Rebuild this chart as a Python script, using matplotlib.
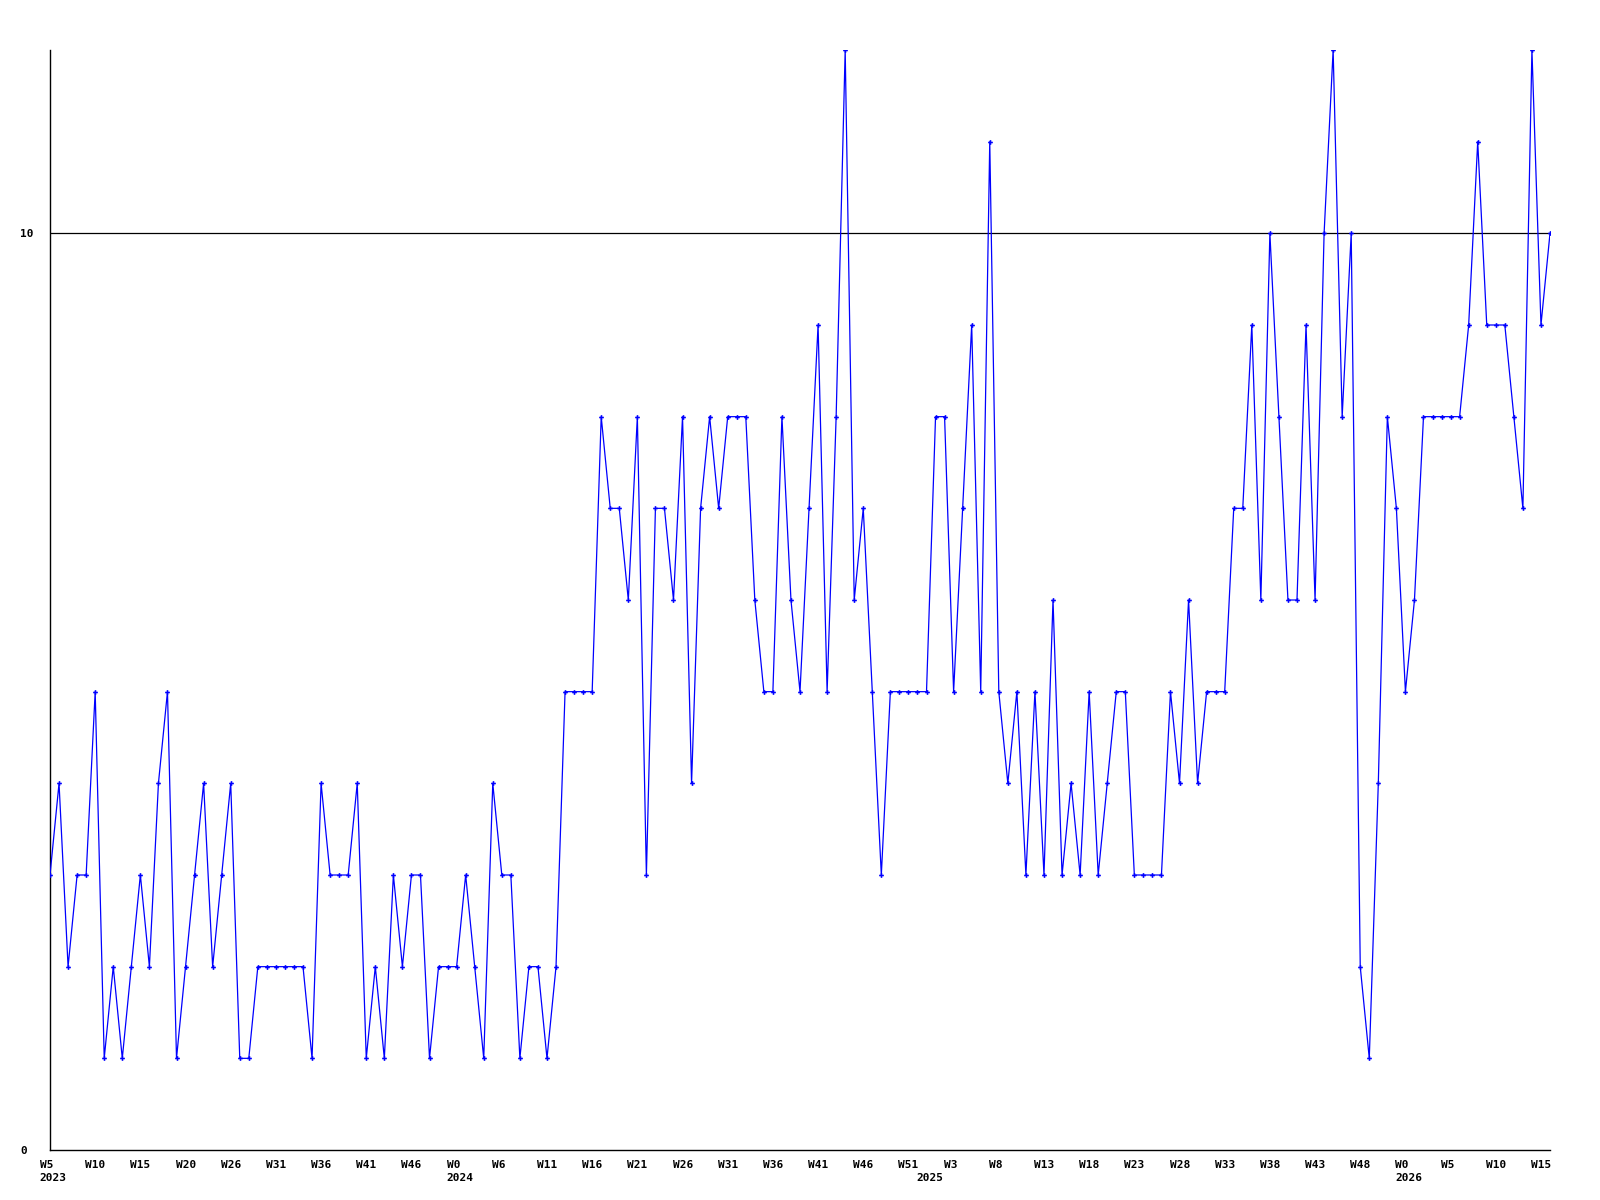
import matplotlib
matplotlib.use('Agg')
import matplotlib.pyplot as plt
import matplotlib.transforms as mtransforms

# weekly values, one per point
values = [3, 4, 2, 3, 3, 5, 1, 2, 1, 2,
          3, 2, 4, 5, 1, 2, 3, 4, 2, 3,
          4, 1, 1, 2, 2, 2, 2, 2, 2, 1,
          4, 3, 3, 3, 4, 1, 2, 1, 3, 2,
          3, 3, 1, 2, 2, 2, 3, 2, 1, 4,
          3, 3, 1, 2, 2, 1, 2, 5, 5, 5,
          5, 8, 7, 7, 6, 8, 3, 7, 7, 6,
          8, 4, 7, 8, 7, 8, 8, 8, 6, 5,
          5, 8, 6, 5, 7, 9, 5, 8, 12, 6,
          7, 5, 3, 5, 5, 5, 5, 5, 8, 8,
          5, 7, 9, 5, 11, 5, 4, 5, 3, 5,
          3, 6, 3, 4, 3, 5, 3, 4, 5, 5,
          3, 3, 3, 3, 5, 4, 6, 4, 5, 5,
          5, 7, 7, 9, 6, 10, 8, 6, 6, 9,
          6, 10, 12, 8, 10, 2, 1, 4, 8, 7,
          5, 6, 8, 8, 8, 8, 8, 9, 11, 9,
          9, 9, 8, 7, 12, 9, 10]

# one label every 5 points
week_labels = ['W5', 'W10', 'W15', 'W20', 'W26', 'W31', 'W36', 'W41', 'W46',
               'W0', 'W6', 'W11', 'W16', 'W21', 'W26', 'W31', 'W36', 'W41',
               'W46', 'W51', 'W3', 'W8', 'W13', 'W18', 'W23', 'W28', 'W33',
               'W38', 'W43', 'W48', 'W0', 'W5', 'W10', 'W15']
years = ['2023', '2024', '2025', '2026']
year_pos = [0, 45, 97, 150]

y_ticks = [0, 10]
threshold = 10

fig = plt.figure(figsize=(16, 12), dpi=100)
ax = fig.add_axes([50/1600, 50/1200, 1500/1600, 1100/1200])

xs = list(range(len(values)))
ax.axhline(threshold, color='black', lw=0.9, zorder=1)
ax.plot(xs, values, color='#0000ff', lw=0.9, marker='P', markersize=3.4,
        markeredgewidth=0, zorder=3)

ax.set_xlim(0, len(values) - 1)
ax.set_ylim(0, 12)

for s in ['top', 'right']:
    ax.spines[s].set_visible(False)
for s in ['left', 'bottom']:
    ax.spines[s].set_color('black')
    ax.spines[s].set_linewidth(1.0)

font = dict(family='DejaVu Sans Mono', weight='bold', size=8)

ax.set_xticks(list(range(0, len(values), 5)))
ax.set_xticklabels(week_labels, ha='left', va='top', **font)
ax.tick_params(axis='x', length=0, pad=7)
shift = mtransforms.ScaledTranslation(-10/100, 0, fig.dpi_scale_trans)
for lbl in ax.get_xticklabels():
    lbl.set_transform(lbl.get_transform() + shift)

# year under the first week of each year
for yr, pos in zip(years, year_pos):
    ax.annotate(yr, xy=(pos, 0), xycoords=('data', 'axes fraction'),
                xytext=(-7.4, -22.3), textcoords='offset points',
                ha='left', va='baseline', annotation_clip=False, **font)

ax.set_yticks(y_ticks)
ax.set_yticklabels([str(v) for v in y_ticks], ha='left', **font)
ax.tick_params(axis='y', length=0, pad=21.6)

fig.savefig('out.png', dpi=100)
